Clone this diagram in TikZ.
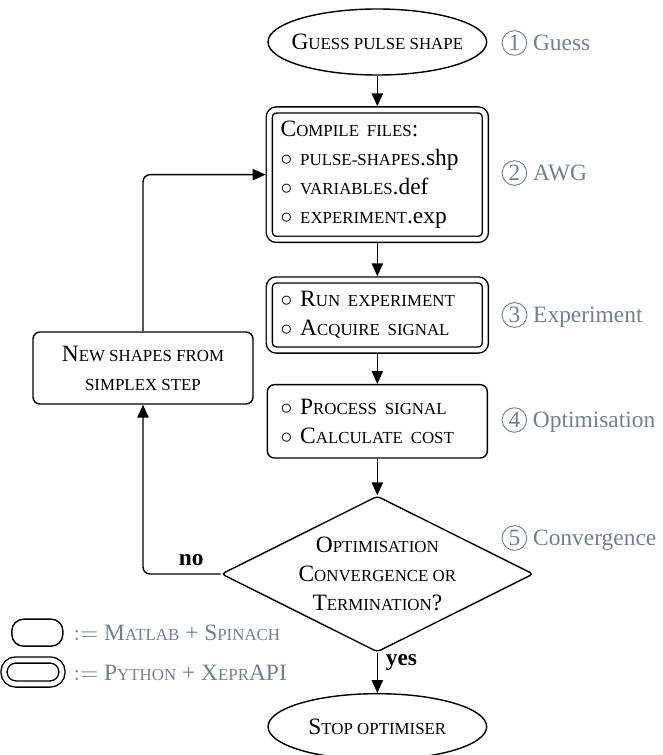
\documentclass[tikz,border=0pt]{standalone}
\usepackage{fontspec}
\setmainfont{Liberation Serif}
\usepackage{tikz}
\usetikzlibrary{shapes.geometric, arrows.meta}
\definecolor{tagcol}{RGB}{112,128,144}
\newcommand{\fsc}[1]{{\fontsize{7.2}{8}\selectfont\MakeUppercase{#1}}}
\newcommand{\stepno}[1]{\tikz[baseline=(sn.base)] \node[circle, draw=tagcol, thin, inner sep=0.8pt] (sn) {#1};}
\tikzset{
    normal/.style={draw, semithick},
    t/.style={style=normal, ellipse, inner xsep=-5pt, minimum width=3.28cm, minimum height=0.99cm}, % start and stop
    l/.style={style=normal, rounded corners=3pt, text width=2.9cm, align=left, inner xsep=0.2cm}, % matlab steps
    ll/.style={style=l, double, double distance=2pt, outer sep=1.6pt, inner xsep=0.17cm}, % python steps
    d/.style={style=normal, diamond, aspect=2, rounded corners=1.5pt, inner sep=0pt, minimum width=4.68cm, minimum height=2.34cm, align=center},
    e/.style={style=normal, ->, >={Triangle[length=5.5pt, width=4.8pt]}},
    tag/.style={text=tagcol, anchor=west}, % stage labels
    key/.style={style=normal, rounded corners=5pt}, % legend
    dkey/.style={style=key, double, double distance=2pt}
}
\begin{document}
\begin{tikzpicture}[font=\fontsize{10}{12.4}\selectfont]
        \useasboundingbox (0,0) rectangle (9.93,-11.325);

        \node[t] (guess) at (5.66, -0.63) {G\fsc{uess pulse shape}};
        \node[ll, minimum height=1.94cm] (compile) at (5.66, -2.62)
        {C\fsc{ompile files}:\\
         $\circ$ \fsc{pulse-shapes}.shp\\
         $\circ$ \fsc{variables}.def\\
         $\circ$ \fsc{experiment}.exp};
        \node[ll, minimum height=1.05cm] (run) at (5.66, -4.725)
        {$\circ$ R\fsc{un experiment}\\
         $\circ$ A\fsc{cquire signal}};
        \node[l, minimum height=1.10cm] (proc) at (5.66, -6.32)
        {$\circ$ P\fsc{rocess signal}\\
         $\circ$ C\fsc{alculate cost}};
        \node[d] (cond) at (5.66, -8.61)
        {O\fsc{ptimisation}\\
         C\fsc{onvergence or}\\
         T\fsc{ermination}?};
        \node[t] (stop) at (5.66, -10.9) {S\fsc{top optimiser}};
        \node[l, text width=, align=center, minimum width=3.3cm, minimum height=1.08cm] (simplex) at (2.145, -5.52)
        {N\fsc{ew shapes from}\\
         \fsc{simplex step}};

        \node[tag] (tguess) at (7.40, -0.645) {\stepno{1} Guess};
        \node[tag] (tawg) at (7.40, -2.595) {\stepno{2} AWG};
        \node[tag] (texp) at (7.40, -4.725) {\stepno{3} Experiment};
        \node[tag] (topt) at (7.40, -6.30) {\stepno{4} Optimisation};
        \node[tag] (tconv) at (7.40, -8.07) {\stepno{5} Convergence};

        \node[key, minimum width=0.765cm, minimum height=0.405cm] (kmat) at (0.56, -9.49) {};
        \node[dkey, minimum width=0.87cm, minimum height=0.36cm] (kpy) at (0.495, -10.08) {};
        \node[tag] (lmat) at (0.98, -9.495) {$:=$ M\fsc{atlab} + S\fsc{pinach}};
        \node[tag] (lpy) at (0.98, -10.095) {$:=$ P\fsc{ython} + X\fsc{epr}API};

        \draw[e] (guess) -- (compile);
        \draw[e] (compile) -- (run);
        \draw[e] (run) -- (proc);
        \draw[e] (proc) -- (cond);
        \draw[e] (cond) -- node[right, pos=0.25] {\textbf{yes}} (stop);
        \draw[e, rounded corners=3pt] (cond.west) -| node[above, pos=0.19] {\textbf{no}} (simplex.south);
        \draw[e, rounded corners=3pt] (simplex.north) |- (compile.west);
      \end{tikzpicture}
\end{document}
